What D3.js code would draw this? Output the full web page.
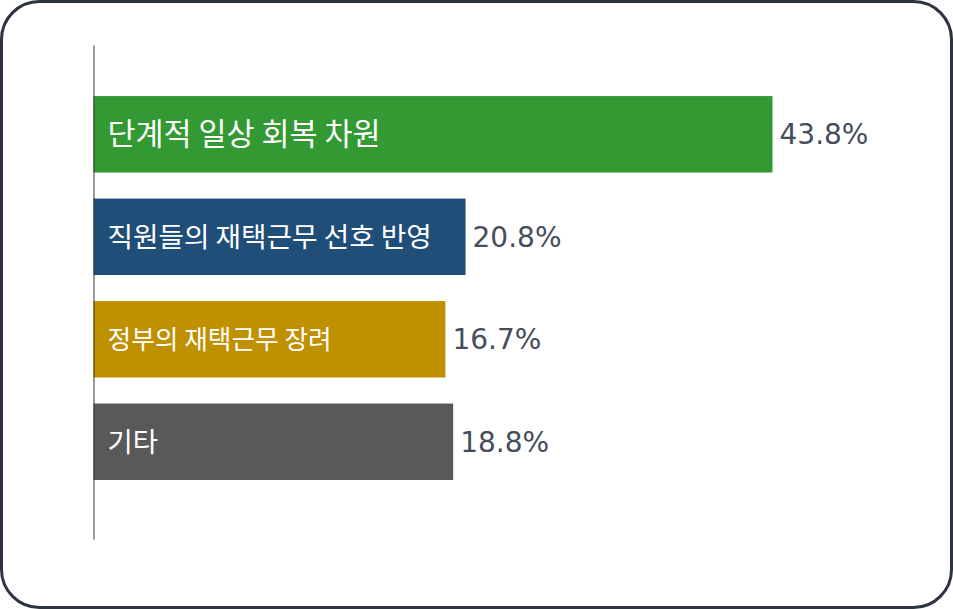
<!DOCTYPE html>
<html>
<head>
<meta charset="utf-8">
<script src="https://cdn.jsdelivr.net/npm/d3@7"></script>
<style>
  html, body { margin: 0; padding: 0; background: #ffffff; }
  svg { display: block; }
</style>
</head>
<body>
<svg id="chart" width="953" height="609"></svg>
<script>
// ---- data ----
const categories = ["단계적 일상 회복 차원", "직원들의 재택근무 선호 반영", "정부의 재택근무 장려", "기타"];
const values = [43.8, 20.8, 16.7, 18.8];           // shown percentages
const barExtent = [43.8, 24.0, 22.7, 23.2];        // drawn bar length (same % units)
const colors = ["#339933", "#1f4e79", "#bf9000", "#595959"];

// ---- styles (not data) ----
const labelFontSizes = [30.5, 27.7, 25.7, 27.5];

const svg = d3.select("#chart");
const W = 953, H = 609;

// rounded frame
svg.append("rect")
  .attr("x", 1.5).attr("y", 1.5)
  .attr("width", W - 3).attr("height", H - 3)
  .attr("rx", 38).attr("ry", 38)
  .attr("fill", "#ffffff")
  .attr("stroke", "#2d3440")
  .attr("stroke-width", 3);

const x0 = 93.5;
const x = d3.scaleLinear().domain([0, 50]).range([x0, x0 + 679 / 43.8 * 50]);
const y = d3.scaleBand().domain(categories).range([45, 539])
  .paddingInner(0.254).paddingOuter(0.537).align(0.464);

const data = categories.map((c, i) => ({ c, v: values[i], e: barExtent[i], col: colors[i], fs: labelFontSizes[i] }));

// bars
svg.append("g").selectAll("rect").data(data).join("rect")
  .attr("x", x(0))
  .attr("y", d => y(d.c))
  .attr("width", d => x(d.e) - x(0))
  .attr("height", y.bandwidth())
  .attr("fill", d => d.col);

// axis line
const axis = svg.append("g")
  .attr("transform", `translate(${x0},0)`)
  .call(d3.axisLeft(y).tickSize(0).tickSizeOuter(0).tickFormat(""));
axis.select(".domain").attr("stroke", "#333333").attr("stroke-width", 1);

// category labels inside bars
svg.append("g").selectAll("text").data(data).join("text")
  .attr("x", x(0) + 14)
  .attr("y", d => y(d.c) + y.bandwidth() / 2)
  .attr("dy", "0.36em")
  .attr("fill", "#ffffff")
  .attr("font-family", "'Noto Sans CJK KR', 'Noto Sans', sans-serif")
  .attr("font-weight", 400)
  .attr("font-size", d => d.fs)
  .text(d => d.c);

// value labels
svg.append("g").selectAll("text").data(data).join("text")
  .attr("x", d => x(d.e) + 7)
  .attr("y", d => y(d.c) + y.bandwidth() / 2)
  .attr("dy", "0.36em")
  .attr("fill", "#454d5b")
  .attr("font-family", "'DejaVu Sans', sans-serif")
  .attr("font-size", 28)
  .text(d => d.v.toFixed(1) + "%");
</script>
</body>
</html>
